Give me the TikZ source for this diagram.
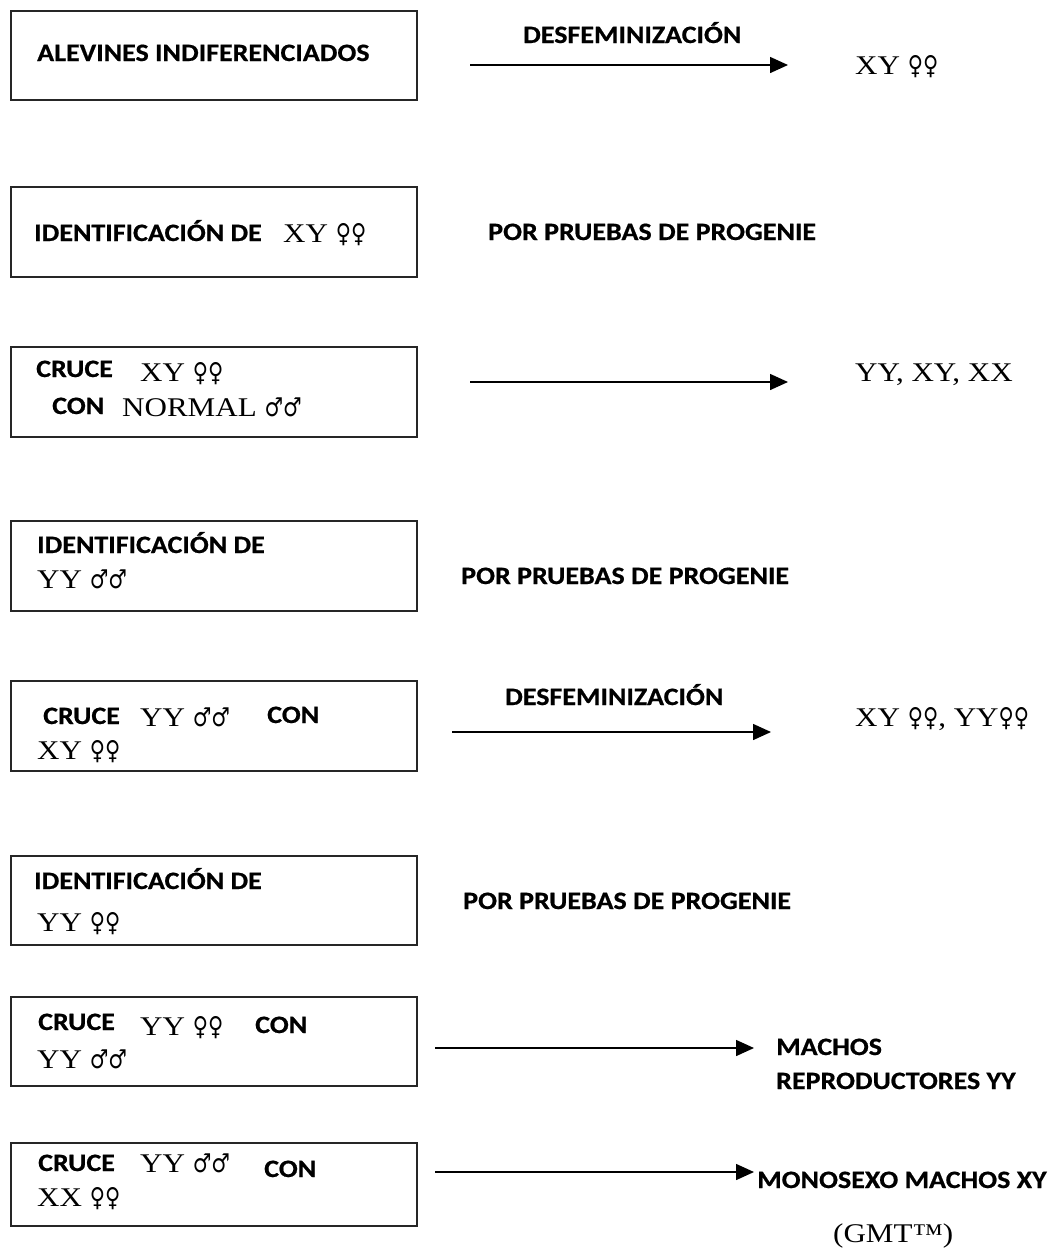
\documentclass[tikz,border=0pt]{standalone}
\usepackage{fontspec}
\usetikzlibrary{arrows.meta}
\newfontfamily\bfont[FakeStretch=1.12,FakeBold=0.6]{Carlito}
\newfontfamily\sfont[FakeStretch=1.15]{Liberation Serif}
\newfontfamily\symfnt[FakeStretch=0.8]{DejaVu Sans}
\newcommand\Fsym{{\symfnt\fontsize{26}{28}\selectfont ♀}}
\newcommand\Msym{{\symfnt\fontsize{26}{28}\selectfont ♂}}
\begin{document}
\begin{tikzpicture}[x=1pt,y=-1pt,
  boxst/.style={draw=black!85,line width=1.6pt,rectangle,inner sep=0pt},
  bt/.style={anchor=base west,inner sep=0pt,font=\bfont\bfseries\fontsize{25}{30}\selectfont},
  st/.style={anchor=base west,inner sep=0pt,font=\sfont\fontsize{27}{30}\selectfont},
  arr/.style={line width=1.5pt,-{Triangle[length=18pt,width=16pt]}}]
\useasboundingbox (0,0) rectangle (1054,1248);
\fill[white] (0,0) rectangle (1054,1248);
% boxes
\node[boxst,minimum width=406pt,minimum height=89pt] (b1) at (214,55.5) {};
\node[boxst,minimum width=406pt,minimum height=90pt] (b2) at (214,232) {};
\node[boxst,minimum width=406pt,minimum height=90pt] (b3) at (214,392) {};
\node[boxst,minimum width=406pt,minimum height=90pt] (b4) at (214,566) {};
\node[boxst,minimum width=406pt,minimum height=90pt] (b5) at (214,726) {};
\node[boxst,minimum width=406pt,minimum height=89pt] (b6) at (214,900.5) {};
\node[boxst,minimum width=406pt,minimum height=89pt] (b7) at (214,1041.5) {};
\node[boxst,minimum width=406pt,minimum height=83pt] (b8) at (214,1184.5) {};
% box texts
\node[bt] (t1) at (37,61) {ALEVINES INDIFERENCIADOS};
\node[bt] (t2a) at (34,241) {IDENTIFICACIÓN DE};
\node[st] (t2b) at (283,242) {XY \Fsym\Fsym};
\node[bt] (t3a) at (36,377) {CRUCE};
\node[st] (t3b) at (140,381) {XY \Fsym\Fsym};
\node[bt] (t3c) at (52,414) {CON};
\node[st] (t3d) at (122,416) {NORMAL \Msym\Msym};
\node[bt] (t4a) at (37,553) {IDENTIFICACIÓN DE};
\node[st] (t4b) at (37,588) {YY \Msym\Msym};
\node[bt] (t5a) at (43,724) {CRUCE};
\node[st] (t5b) at (140,726) {YY \Msym\Msym};
\node[bt] (t5c) at (267,723) {CON};
\node[st] (t5d) at (37,759) {XY \Fsym\Fsym};
\node[bt] (t6a) at (34,889) {IDENTIFICACIÓN DE};
\node[st] (t6b) at (37,931) {YY \Fsym\Fsym};
\node[bt] (t7a) at (38,1030) {CRUCE};
\node[st] (t7b) at (140,1035) {YY \Fsym\Fsym};
\node[bt] (t7c) at (255,1033) {CON};
\node[st] (t7d) at (37,1068) {YY \Msym\Msym};
\node[bt] (t8a) at (38,1171) {CRUCE};
\node[st] (t8b) at (140,1172) {YY \Msym\Msym};
\node[bt] (t8c) at (264,1177) {CON};
\node[st] (t8d) at (37,1206) {XX \Fsym\Fsym};
% right side
\node[bt] (l1) at (523,43) {DESFEMINIZACIÓN};
\node[st] (r1) at (855,74) {XY \Fsym\Fsym};
\node[bt] (p2) at (488,240) {POR PRUEBAS DE PROGENIE};
\node[st] (r3) at (855,381) {YY, XY, XX};
\node[bt] (p4) at (461,584) {POR PRUEBAS DE PROGENIE};
\node[bt] (l5) at (505,705) {DESFEMINIZACIÓN};
\node[st] (r5) at (855,726) {XY \Fsym\Fsym, YY\Fsym\Fsym};
\node[bt] (p6) at (463,909) {POR PRUEBAS DE PROGENIE};
\node[bt] (r7a) at (776,1055) {MACHOS};
\node[bt] (r7b) at (776,1089) {REPRODUCTORES YY};
\node[bt] (r8) at (757,1188) {MONOSEXO MACHOS XY};
\node[st] (r8b) at (833,1242) {(GMT™)};
% arrows
\coordinate (a1s) at (470,65); \coordinate (a1e) at (788,65);
\coordinate (a3s) at (470,382); \coordinate (a3e) at (788,382);
\coordinate (a5s) at (452,732); \coordinate (a5e) at (771,732);
\coordinate (a7s) at (435,1048); \coordinate (a7e) at (754,1048);
\coordinate (a8s) at (435,1172); \coordinate (a8e) at (754,1172);
\draw[arr] (a1s) -- (a1e);
\draw[arr] (a3s) -- (a3e);
\draw[arr] (a5s) -- (a5e);
\draw[arr] (a7s) -- (a7e);
\draw[arr] (a8s) -- (a8e);
\end{tikzpicture}
\end{document}
